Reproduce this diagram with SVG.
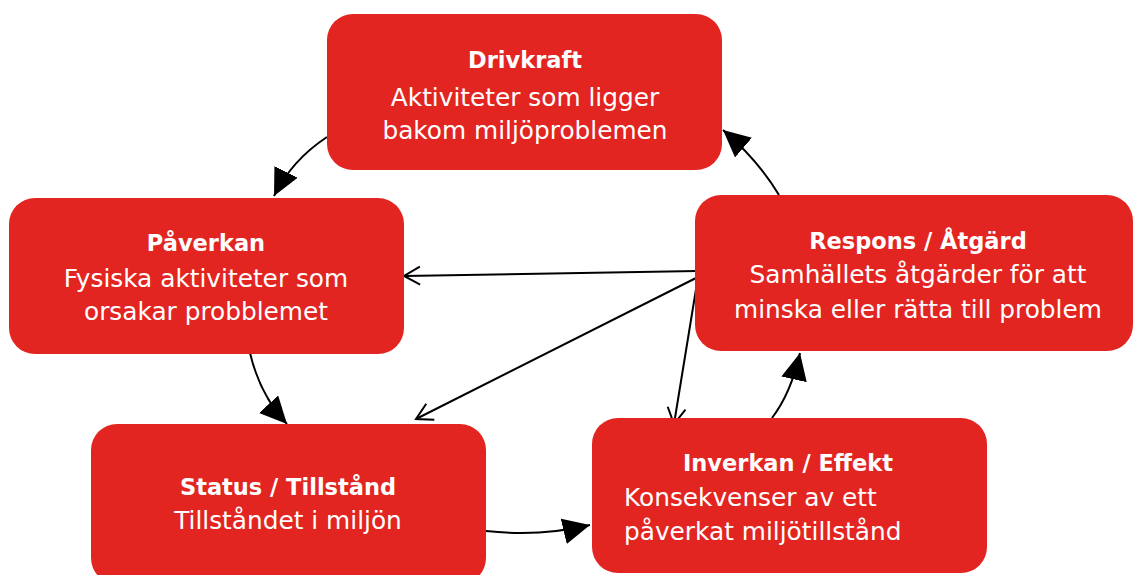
<svg xmlns="http://www.w3.org/2000/svg" width="1134" height="575" viewBox="0 0 1134 575">
<style>
.box{fill:#E32522}
.t{font-family:"DejaVu Sans","Liberation Sans",sans-serif;fill:#fff}
.h{font-size:22.5px;font-weight:bold}
.b{font-size:24.8px}
.c{stroke:#000;stroke-width:2;fill:none}
</style>
<defs>
<marker id="fa" markerUnits="userSpaceOnUse" markerWidth="30" markerHeight="30" refX="27" refY="13" orient="auto">
<path d="M0,0 L27,13 L0,26 Z" fill="#000"/>
</marker>
<marker id="oa" markerUnits="userSpaceOnUse" markerWidth="24" markerHeight="24" refX="17" refY="10" orient="auto">
<path d="M1,1 L17,10 L1,19" fill="none" stroke="#000" stroke-width="2"/>
</marker>
</defs>
<rect width="1134" height="575" fill="#fff"/>
<g id="connectors">
<path class="c" d="M327,137 Q292,160 274,196" marker-end="url(#fa)"/>
<path class="c" d="M250,353 Q260,395 287,424" marker-end="url(#fa)"/>
<path class="c" d="M486,531 Q540,537 590,525" marker-end="url(#fa)"/>
<path class="c" d="M772,418 Q791,393 800,353" marker-end="url(#fa)"/>
<path class="c" d="M779,195 Q758,160 723,130" marker-end="url(#fa)"/>
<path class="c" d="M697,271 L404,276" marker-end="url(#oa)"/>
<path class="c" d="M698,277 L416,419" marker-end="url(#oa)"/>
<path class="c" d="M698,277 L674,424" marker-end="url(#oa)"/>
</g>
<g id="drivkraft">
<rect class="box" x="327" y="14" width="395" height="156" rx="26"/>
<text class="t h" x="525" y="68" text-anchor="middle">Drivkraft</text>
<text class="t b" x="525" y="106" text-anchor="middle">Aktiviteter som ligger</text>
<text class="t b" x="525" y="139" text-anchor="middle">bakom miljöproblemen</text>
</g>
<g id="paverkan">
<rect class="box" x="9" y="198" width="395" height="156" rx="26"/>
<text class="t h" x="206" y="251" text-anchor="middle">Påverkan</text>
<text class="t b" x="206" y="287" text-anchor="middle">Fysiska aktiviteter som</text>
<text class="t b" x="206" y="320" text-anchor="middle">orsakar probblemet</text>
</g>
<g id="respons">
<rect class="box" x="695" y="195" width="438" height="156" rx="26"/>
<text class="t h" x="918" y="249" text-anchor="middle">Respons / Åtgärd</text>
<text class="t b" x="918" y="283" text-anchor="middle">Samhällets åtgärder för att</text>
<text class="t b" x="918" y="318" text-anchor="middle">minska eller rätta till problem</text>
</g>
<g id="status">
<rect class="box" x="91" y="424" width="395" height="160" rx="26"/>
<text class="t h" x="288" y="495" text-anchor="middle">Status / Tillstånd</text>
<text class="t b" x="288" y="529" text-anchor="middle">Tillståndet i miljön</text>
</g>
<g id="inverkan">
<rect class="box" x="592" y="418" width="395" height="155" rx="26"/>
<text class="t h" x="788" y="471" text-anchor="middle">Inverkan / Effekt</text>
<text class="t b" x="624" y="506">Konsekvenser av ett</text>
<text class="t b" x="624" y="540">påverkat miljötillstånd</text>
</g>
</svg>
